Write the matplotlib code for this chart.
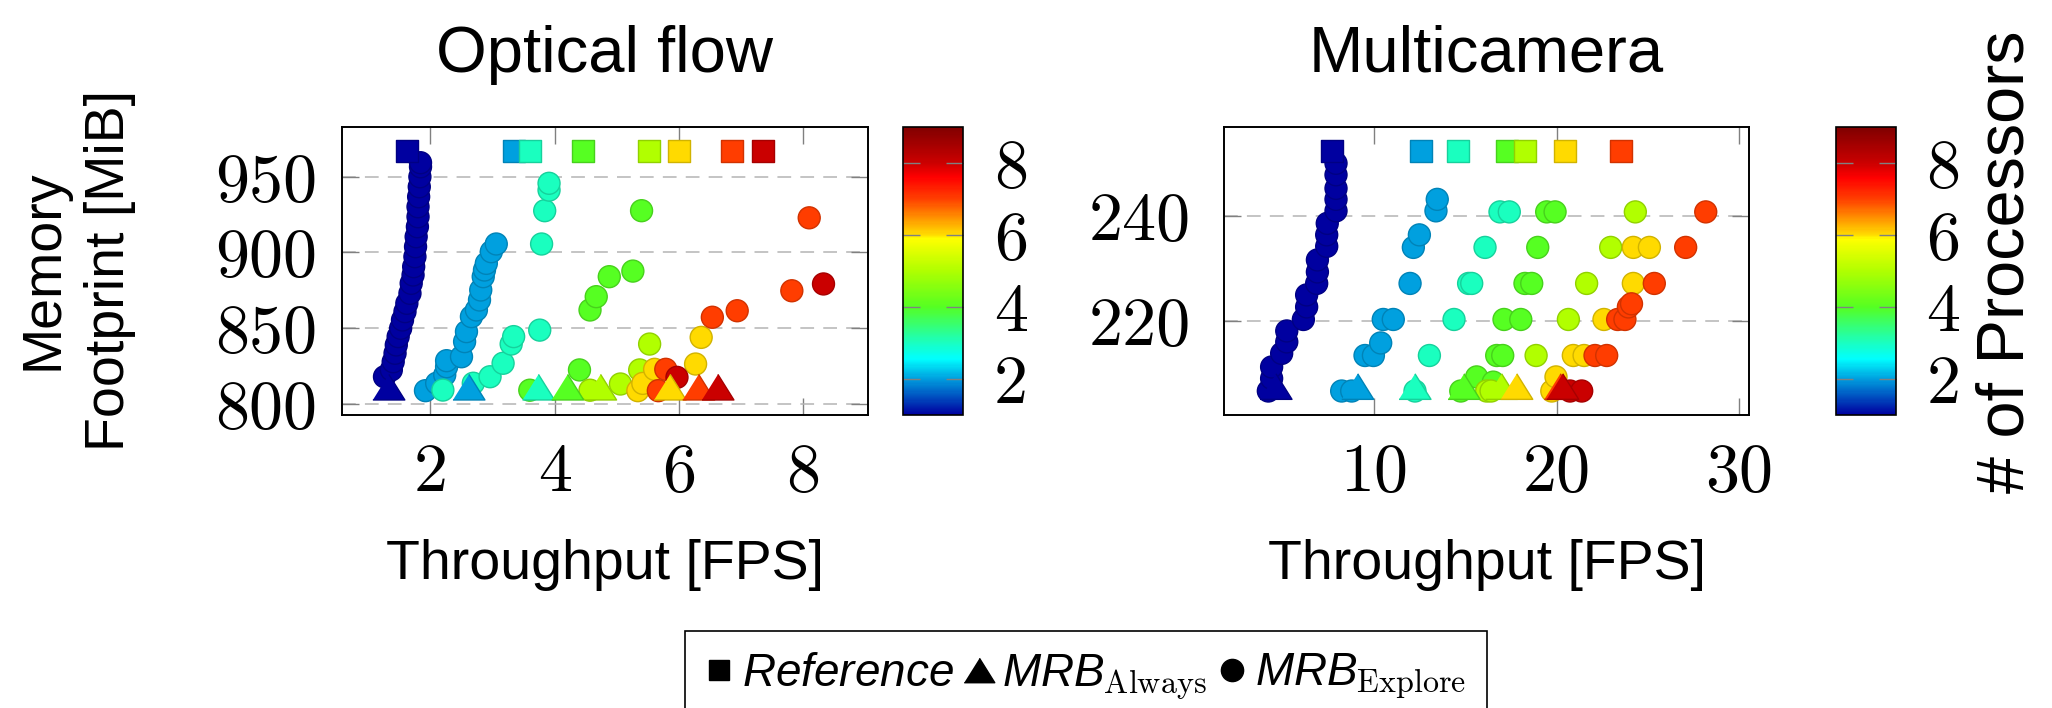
import numpy as np
import matplotlib
matplotlib.use("Agg")
import matplotlib.pyplot as plt
from matplotlib.colors import LinearSegmentedColormap, Normalize
from matplotlib.cm import ScalarMappable
from matplotlib.lines import Line2D

plt.rcParams["font.family"] = ["Liberation Sans", "DejaVu Sans"]
plt.rcParams["mathtext.fontset"] = "custom"
plt.rcParams["mathtext.it"] = "Liberation Sans:italic"
plt.rcParams["mathtext.rm"] = "cmr10"

# ---------------- data: Optical flow ----------------
of_ref_x = [1.62, 3.34, 3.61, 4.46, 5.52, 6.01, 6.86, 7.35]
of_ref_p = [1, 2, 3, 4, 5, 6, 7, 8]
of_ref_mem = 966.9

of_alw_x = [1.33, 2.62, 3.74, 4.21, 4.74, 5.86, 6.32, 6.63]
of_alw_p = [1, 2, 3, 4, 5, 6, 7, 8]
of_alw_mem = 810.9

of_exp_x = [1.26, 1.37, 1.40, 1.43, 1.45, 1.48, 1.52, 1.55, 1.59, 1.62, 1.67, 1.69, 1.72,
            1.73, 1.75, 1.76, 1.77, 1.79, 1.80, 1.80, 1.81, 1.82, 1.83, 1.84, 1.84,
            1.92, 2.10, 2.23, 2.26, 2.26, 2.50, 2.55, 2.58, 2.66, 2.74, 2.79, 2.81, 2.85,
            2.87, 2.90, 2.98, 3.06,
            2.20, 2.69, 2.96, 3.17, 3.30, 3.34, 3.76, 3.79, 3.84, 3.91, 3.91,
            3.60, 4.40, 4.57, 4.67, 4.88, 5.26, 5.40,
            4.57, 5.06, 5.37, 5.53,
            5.34, 5.42, 5.61, 6.27, 6.36,
            5.67, 5.79, 6.54, 6.94, 7.82, 8.10,
            5.97, 8.33]
of_exp_y = [817.8, 822.3, 827.7, 833.3, 838.8, 844.3, 849.8, 855.3, 860.8, 866.3, 872.9, 879.5, 885.0,
            890.5, 897.1, 903.7, 910.3, 916.9, 923.5, 930.1, 936.7, 943.3, 949.9, 956.5, 959.2,
            808.6, 813.5, 819.0, 824.4, 828.4, 831.0, 841.0, 847.6, 857.5, 861.9, 868.5, 875.1, 883.9,
            888.3, 892.7, 900.4, 905.5,
            809.0, 813.5, 817.8, 826.7, 839.4, 844.3, 848.6, 905.5, 927.5, 941.1, 945.6,
            808.9, 822.3, 861.9, 870.7, 883.9, 887.6, 927.5,
            808.9, 813.0, 822.3, 839.4,
            808.6, 813.4, 822.7, 826.2, 843.8,
            808.6, 822.7, 857.1, 861.4, 874.6, 922.8,
            817.4, 879.1]
of_exp_p = [1] * 25 + [2] * 17 + [3] * 11 + [4] * 7 + [5] * 4 + [6] * 5 + [7] * 6 + [8] * 2

# ---------------- data: Multicamera ----------------
mc_ref_x = [7.70, 12.58, 14.61, 17.26, 18.26, 20.44, 23.53]
mc_ref_p = [1, 2, 3, 4, 5, 6, 7]
mc_ref_mem = 252.5

mc_alw_x = [4.61, 9.09, 12.23, 14.92, 16.98, 17.81, 20.20, 20.33]
mc_alw_p = [1, 2, 3, 4, 5, 6, 7, 8]
mc_alw_mem = 207.35

mc_exp_x = [4.19, 4.37, 4.37, 4.92, 5.20, 5.20, 6.11, 6.29, 6.29, 6.84, 6.88, 6.88, 7.39, 7.39,
            7.42, 7.90, 7.90, 7.90, 7.90, 7.90,
            8.21, 8.76, 9.49, 9.95, 10.35, 10.49, 11.04, 11.96, 12.14, 12.47, 13.38, 13.45,
            12.23, 13.02, 14.37, 15.17, 15.34, 16.07, 16.89, 17.40,
            14.74, 15.61, 16.52, 16.71, 17.04, 17.11, 18.03, 18.26, 18.63, 18.96, 19.45, 19.91,
            16.16, 16.40, 18.87, 20.64, 21.64, 22.96, 24.31,
            19.73, 19.96, 20.91, 21.50, 22.59, 24.20, 24.20, 25.08,
            22.10, 22.74, 23.34, 23.74, 23.93, 24.10, 25.35, 27.07, 28.17,
            20.73, 21.37]
mc_exp_y = [206.5, 208.9, 211.1, 213.7, 215.9, 218.0, 220.2, 222.6, 224.9, 227.1, 229.3, 231.6, 234.2, 236.4,
            238.6, 241.0, 243.2, 245.3, 247.9, 250.1,
            206.5, 206.5, 213.3, 213.3, 215.7, 220.2, 220.2, 227.1, 234.0, 236.4, 241.0, 243.2,
            206.5, 213.3, 220.2, 227.1, 227.1, 234.0, 240.8, 240.8,
            206.5, 209.2, 208.2, 213.3, 213.3, 220.2, 220.2, 227.1, 227.1, 234.0, 240.8, 240.8,
            206.5, 206.5, 213.3, 220.2, 227.1, 234.0, 240.8,
            206.5, 209.2, 213.3, 213.3, 220.2, 227.1, 234.0, 234.0,
            213.3, 213.3, 220.2, 220.2, 222.6, 223.2, 227.1, 234.0, 240.8,
            206.5, 206.5]
mc_exp_p = [1] * 20 + [2] * 12 + [3] * 8 + [4] * 12 + [5] * 7 + [6] * 8 + [7] * 9 + [8] * 2

# colour map anchors (processor count -> colour)
cmap_vals = [1, 2, 2.55, 3, 4, 5, 5.9, 6, 7, 7.6, 8, 9]
cmap_cols = ["#0000a0", "#009fdf", "#00ffff", "#1affc0", "#55ff22", "#b0ff00",
             "#ffff00", "#ffdd00", "#ff4000", "#ff0000", "#cc0000", "#800000"]

norm = Normalize(1, 9)
cmap = LinearSegmentedColormap.from_list(
    "procs", [((v - 1) / 8, c) for v, c in zip(cmap_vals, cmap_cols)])

tri = [(-1, -0.8), (1, -0.8), (0, 0.8)]


def edge(p):
    c = cmap(norm(np.asarray(p, dtype=float)))
    c[:, :3] *= 0.82
    return c


def panel(ax, cax, title, ref_x, ref_p, ref_mem, alw_x, alw_p, alw_mem,
          exp_x, exp_y, exp_p, xlim, ylim, xticks, yticks, ypad):
    order = np.argsort(exp_p, kind="stable")
    ex = np.array(exp_x)[order]
    ey = np.array(exp_y)[order]
    ep = np.array(exp_p)[order]
    ax.scatter(ex, ey, c=ep, cmap=cmap, norm=norm, s=250, marker="o",
               edgecolors=edge(ep), linewidths=1.0, zorder=3)
    ax.scatter(alw_x, [alw_mem] * len(alw_x), c=alw_p, cmap=cmap, norm=norm,
               s=530, marker=tri, edgecolors=edge(alw_p), linewidths=1.0, zorder=4)
    ax.scatter(ref_x, [ref_mem] * len(ref_x), c=ref_p, cmap=cmap, norm=norm,
               s=250, marker="s", edgecolors=edge(ref_p), linewidths=1.0, zorder=4)

    ax.set_xlim(*xlim)
    ax.set_ylim(*ylim)
    ax.set_xticks(xticks, labels=[str(t) for t in xticks])
    ax.set_yticks(yticks, labels=[str(t) for t in yticks])
    ax.grid(axis="y", color="#b4b4b4", linestyle=(0, (9, 6)), linewidth=1.1, zorder=0)
    ax.set_axisbelow(True)
    ax.tick_params(axis="both", direction="in", length=12, width=1.0, color="#808080",
                   top=True, right=True, labelsize=49, labelfontfamily="cmr10")
    ax.tick_params(axis="x", pad=20)
    ax.tick_params(axis="y", pad=ypad)
    for s in ax.spines.values():
        s.set_linewidth(1.4)
    ax.set_title(title, fontsize=47, pad=40)
    ax.set_xlabel("Throughput [FPS]", fontsize=40)
    ax.xaxis.set_label_coords(0.5, -0.43)

    cb = plt.colorbar(ScalarMappable(norm=norm, cmap=cmap), cax=cax, ticks=[2, 4, 6, 8])
    cb.outline.set_linewidth(1.2)
    cax.tick_params(direction="in", length=12, width=1.0, color="#808080", left=True, right=True,
                    labelsize=49, labelfontfamily="cmr10", pad=22)
    return cb


fig = plt.figure(figsize=(20.52, 7.08), dpi=100)
ax1 = fig.add_axes([0.1668, 0.4138, 0.2560, 0.4064])
cax1 = fig.add_axes([0.4402, 0.4138, 0.02924, 0.4073])
ax2 = fig.add_axes([0.5965, 0.4138, 0.2560, 0.4064])
cax2 = fig.add_axes([0.8946, 0.4138, 0.02924, 0.4064])

panel(ax1, cax1, "Optical flow", of_ref_x, of_ref_p, of_ref_mem, of_alw_x, of_alw_p, of_alw_mem,
      of_exp_x, of_exp_y, of_exp_p, (0.58, 9.04), (792.5, 982.6), [2, 4, 6, 8],
      [800, 850, 900, 950], 18)
panel(ax2, cax2, "Multicamera", mc_ref_x, mc_ref_p, mc_ref_mem, mc_alw_x, mc_alw_p, mc_alw_mem,
      mc_exp_x, mc_exp_y, mc_exp_p, (1.76, 30.56), (201.9, 257.0), [10, 20, 30],
      [220, 240], 24)

fig.text(0.0373, 0.6186, "Memory\nFootprint [MiB]", rotation=90, ha="center", va="center",
         fontsize=40, multialignment="center", linespacing=1.35)
fig.text(0.978, 0.6307, "# of Processors", rotation=90, ha="center", va="center", fontsize=48)

handles = [Line2D([], [], marker="s", color="k", linestyle="None", markersize=15),
           Line2D([], [], marker=tri, color="k", linestyle="None", markersize=22),
           Line2D([], [], marker="o", color="k", linestyle="None", markersize=16)]
labels = [r"$Reference$", r"$MRB_{\mathrm{Always}}$", r"$MRB_{\mathrm{Explore}}$"]
leg = fig.legend(handles, labels, loc="upper center", bbox_to_anchor=(0.5292, 0.1088), ncol=3,
                 fontsize=33, frameon=True, fancybox=False, edgecolor="black", framealpha=1,
                 handlelength=0.6, handletextpad=0.2, columnspacing=0.25, borderpad=0.45,
                 borderaxespad=0)
leg.get_frame().set_linewidth(1.2)

fig.savefig("out.png", dpi=100)
